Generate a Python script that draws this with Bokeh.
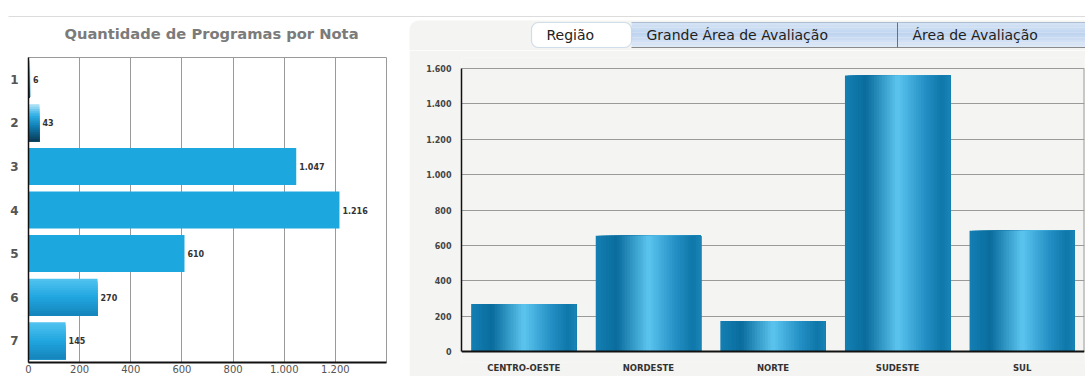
from bokeh.plotting import figure
from bokeh.layouts import column, row
from bokeh.models import Range1d, FixedTicker, BoxAnnotation, LinearAxis
from bokeh.embed import file_html
from bokeh.resources import INLINE
from bokeh.core.properties import value

# ---------------- data ----------------
title_text = "Quantidade de Programas por Nota"
notas = [1, 2, 3, 4, 5, 6, 7]
nota_counts = [6, 43, 1047, 1216, 610, 270, 145]
nota_labels = ["6", "43", "1.047", "1.216", "610", "270", "145"]
x_ticks_left = [0, 200, 400, 600, 800, 1000, 1200]
x_tick_labels_left = ["0", "200", "400", "600", "800", "1.000", "1.200"]

regioes = ["CENTRO-OESTE", "NORDESTE", "NORTE", "SUDESTE", "SUL"]
regiao_counts = [268, 655, 172, 1560, 682]
y_ticks_right = [0, 200, 400, 600, 800, 1000, 1200, 1400, 1600]
y_tick_labels_right = ["0", "200", "400", "600", "800", "1.000", "1.200", "1.400", "1.600"]

tabs = ["Região", "Grande Área de Avaliação", "Área de Avaliação"]

FONT = "DejaVu Sans"

# ---------------- helpers ----------------
def hex2rgb(h):
    h = h.lstrip("#")
    return tuple(int(h[i:i + 2], 16) for i in (0, 2, 4))

def rgb2hex(c):
    return "#%02x%02x%02x" % tuple(max(0, min(255, int(round(v)))) for v in c)

def grad(stops, t):
    for (p0, c0), (p1, c1) in zip(stops[:-1], stops[1:]):
        if p0 <= t <= p1:
            f = 0 if p1 == p0 else (t - p0) / (p1 - p0)
            a, b = hex2rgb(c0), hex2rgb(c1)
            return rgb2hex([a[i] + (b[i] - a[i]) * f for i in range(3)])
    return stops[-1][1]

# gradient styles (top -> bottom) for the horizontal bars
flat = [(0, "#1ca7df"), (1, "#1ca7df")]
dark_v = [(0, "#b5e4f7"), (0.3, "#2fb0e6"), (0.6, "#0f7db2"), (1, "#0a3a55")]
soft_v = [(0, "#52c4f0"), (0.5, "#21a6e0"), (1, "#1584ba")]
left_styles = [dark_v, dark_v, flat, flat, flat, soft_v, soft_v]

# gradient (left -> right) for the vertical bars
h_stops = [(0, "#147fb3"), (0.2, "#0a6c9d"), (0.5, "#5cc5ef"), (0.75, "#2591c6"),
           (0.92, "#0f77a9"), (1, "#1a84b7")]

# ---------------- top strip: separator, title, tabs ----------------
H = 50
def Y(y):
    return H - y

top = figure(width=1085, height=H, x_range=Range1d(0, 1085), y_range=Range1d(0, H),
             output_backend="svg", toolbar_location=None, min_border=0, title=None,
             background_fill_color="white", border_fill_color="white")
top.axis.visible = False
top.grid.visible = False
top.outline_line_color = None

top.add_layout(BoxAnnotation(left=409, right=1100, bottom=-20, top=Y(20),
                             fill_color="#f4f4f2", fill_alpha=1, line_color=None,
                             border_radius=9, level="underlay"))
top.segment(x0=[8], y0=[Y(16)], x1=[1085], y1=[Y(16)], line_color="#dcdcdc", line_width=1)
top.text(x=[211], y=[Y(32.5)], text=[title_text], text_font=value(FONT),
         text_font_size="14.7px", text_font_style="bold", text_color="#7b7b7b",
         text_align="center", text_baseline="middle")

# tab bar background (gradient strips)
tab_grad = [(0, "#d6e5f6"), (0.45, "#bfd4ef"), (1, "#e0eaf8")]
n_tab = 10
ty0 = [Y(22 + k * 25 / n_tab) for k in range(n_tab)]
ty1 = [Y(22 + (k + 1) * 25 / n_tab) for k in range(n_tab)]
tcols = [grad(tab_grad, (k + 0.5) / n_tab) for k in range(n_tab)]
top.quad(left=[631] * n_tab, right=[1085] * n_tab, top=ty0, bottom=ty1,
         fill_color=tcols, line_color=None)
top.segment(x0=[631], y0=[Y(22)], x1=[1085], y1=[Y(22)], line_color="#aebfd3")
top.segment(x0=[631], y0=[Y(47)], x1=[1085], y1=[Y(47)], line_color="#8a8a8a")
top.segment(x0=[897], y0=[Y(22)], x1=[897], y1=[Y(47)], line_color="#6f6f6f")
top.add_layout(BoxAnnotation(left=531, right=631, bottom=Y(47), top=Y(22),
                             fill_color="white", fill_alpha=1, line_color="#6f9cc6",
                             line_width=1.2, border_radius=7))
tab_x = [546, 646, 912]
top.text(x=tab_x, y=[Y(34.5)] * 3, text=tabs, text_font=value(FONT),
         text_font_size="14px", text_color="#222222",
         text_align="left", text_baseline="middle", level="overlay")

# ---------------- left chart ----------------
pl = figure(width=409, height=326, x_range=Range1d(0, 1400), y_range=Range1d(7.5, 0.5),
            output_backend="svg", toolbar_location=None, title=None,
            min_border_left=28, min_border_right=23, min_border_top=7, min_border_bottom=14,
            background_fill_color="white", border_fill_color="white")
pl.outline_line_color = "#9a9a9a"
pl.ygrid.visible = False
pl.xgrid.grid_line_color = "#9a9a9a"
pl.xgrid.ticker = FixedTicker(ticks=x_ticks_left)

pl.xaxis.ticker = FixedTicker(ticks=x_ticks_left)
pl.xaxis.major_label_overrides = dict(zip(x_ticks_left, x_tick_labels_left))
pl.yaxis.ticker = FixedTicker(ticks=notas)
for ax in (pl.xaxis[0], pl.yaxis[0]):
    ax.major_tick_out = 0
    ax.major_tick_in = 0
    ax.minor_tick_out = 0
    ax.minor_tick_in = 0
    ax.major_label_text_font = FONT
    ax.axis_line_color = "#111111"
pl.xaxis.axis_line_width = 2
pl.yaxis.axis_line_width = 1.5
pl.xaxis.major_label_text_font_size = "10px"
pl.xaxis.major_label_text_color = "#555555"
pl.xaxis.major_label_standoff = 2
pl.yaxis.major_label_text_font_size = "12px"
pl.yaxis.major_label_text_font_style = "bold"
pl.yaxis.major_label_text_color = "#555555"
pl.yaxis.major_label_standoff = 10

bar_h = 0.85
n_strips = 16
for nota, cnt, style in zip(notas, nota_counts, left_styles):
    if style is flat:
        pl.hbar(y=[nota], right=[cnt], left=0, height=bar_h,
                fill_color=style[0][1], line_color=None)
        continue
    ys, hs, cols = [], [], []
    bottom_edge = nota + bar_h / 2
    for k in range(n_strips):
        top_k = nota - bar_h / 2 + k * bar_h / n_strips
        ys.append((top_k + bottom_edge) / 2)
        hs.append(bottom_edge - top_k)
        cols.append(grad(style, (k + 0.5) / n_strips))
    pl.hbar(y=ys, right=[cnt] * n_strips, left=0, height=hs,
            fill_color=cols, line_color=None)

pl.text(x=nota_counts, y=notas, text=nota_labels, x_offset=3,
        text_font=value(FONT), text_font_size="8px", text_font_style="bold",
        text_color="#333333", text_align="left", text_baseline="middle")

# ---------------- right chart ----------------
# frame spans the same screen rows as the left chart; the value axis occupies
# the inner part of it (0 at 11px above the frame bottom, 1600 at 11px below its top)
frame_h = 305
pad_px = 11
ymax = y_ticks_right[-1]
px_per_unit = (frame_h - 2 * pad_px) / ymax
pad_units = pad_px / px_per_unit

pr = figure(width=676, height=326, x_range=Range1d(0, len(regioes)),
            y_range=Range1d(-pad_units, ymax + pad_units),
            output_backend="svg", toolbar_location=None, title=None,
            min_border_left=52, min_border_right=1, min_border_top=7, min_border_bottom=14,
            background_fill_color="#f4f4f2", border_fill_color="#f4f4f2")
pr.outline_line_color = None
pr.xgrid.visible = False
pr.ygrid.grid_line_color = "#9a9a9a"
pr.ygrid.ticker = FixedTicker(ticks=y_ticks_right)

centers = [i + 0.5 for i in range(len(regioes))]
# main x axis: only the black base line at value 0
pr.xaxis.ticker = FixedTicker(ticks=[])
pr.xaxis.fixed_location = 0
pr.xaxis.axis_line_color = "#111111"
pr.xaxis.axis_line_width = 2
pr.xaxis.major_tick_out = 0
pr.xaxis.minor_tick_out = 0
pr.xaxis.major_tick_in = 0
pr.xaxis.minor_tick_in = 0
# category labels axis, below the frame
cat_axis = LinearAxis(ticker=FixedTicker(ticks=centers),
                      major_label_overrides=dict(zip(centers, regioes)),
                      axis_line_color=None, major_tick_out=0, major_tick_in=0,
                      minor_tick_out=0, minor_tick_in=0, major_label_standoff=0,
                      major_label_text_font=FONT, major_label_text_font_size="8.5px",
                      major_label_text_font_style="bold", major_label_text_color="#333333")
pr.add_layout(cat_axis, "below")

pr.yaxis.ticker = FixedTicker(ticks=y_ticks_right)
pr.yaxis.major_label_overrides = dict(zip(y_ticks_right, y_tick_labels_right))
pr.yaxis.bounds = (0, ymax)
ya = pr.yaxis[0]
ya.major_tick_out = 0
ya.major_tick_in = 0
ya.minor_tick_out = 0
ya.minor_tick_in = 0
ya.major_label_text_font = FONT
ya.major_label_text_font_style = "bold"
ya.major_label_text_font_size = "8px"
ya.major_label_text_color = "#444444"
ya.major_label_standoff = 10
ya.axis_line_color = "#111111"
ya.axis_line_width = 1.5

bar_w = 0.845
m_strips = 40
for c, cnt in zip(centers, regiao_counts):
    xs, ws, cols = [], [], []
    right_edge = c + bar_w / 2
    for k in range(m_strips):
        left_k = c - bar_w / 2 + k * bar_w / m_strips
        xs.append((left_k + right_edge) / 2)
        ws.append(right_edge - left_k)
        cols.append(grad(h_stops, (k + 0.5) / m_strips))
    pr.vbar(x=xs, top=[cnt] * m_strips, bottom=0, width=ws,
            fill_color=cols, line_color=None)

# right border line of the value area
pr.segment(x0=[len(regioes)], y0=[0], x1=[len(regioes)], y1=[ymax],
           line_color="#9a9a9a", line_width=2)

layout = column(top, row(pl, pr, spacing=0), spacing=0)

open("out.html", "w").write(file_html(layout, INLINE))
